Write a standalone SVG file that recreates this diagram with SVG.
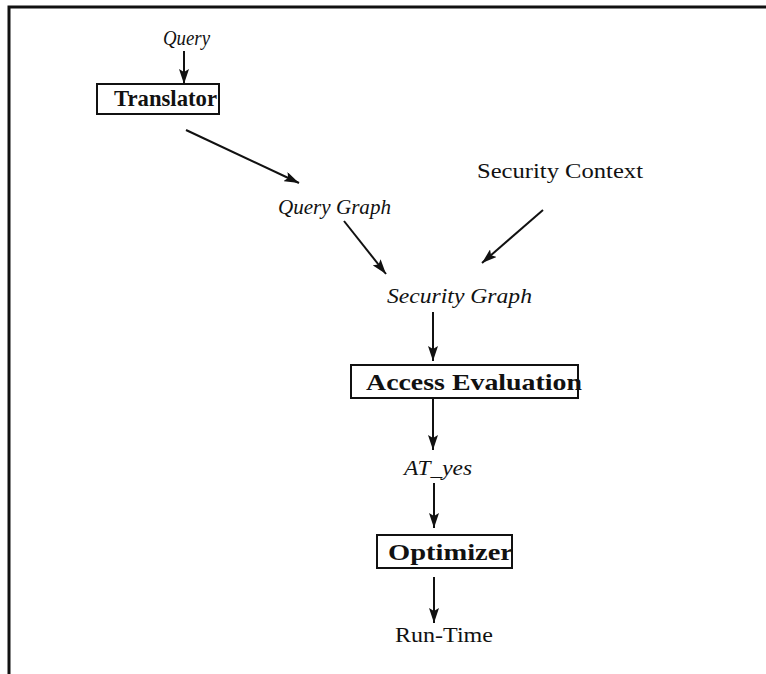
<svg xmlns="http://www.w3.org/2000/svg" width="766" height="674" viewBox="0 0 766 674">
<style>
text{font-family:"Liberation Serif","Times New Roman",serif;fill:#111;font-size:22px}
.it{font-style:italic}
.bf{font-weight:bold;font-size:23px}
.box{fill:none;stroke:#111;stroke-width:2}
.edge{stroke:#111;stroke-width:2;fill:none;marker-end:url(#ah)}
.frame{stroke:#111;stroke-width:3;fill:none}
</style>
<defs>
<marker id="ah" markerUnits="userSpaceOnUse" markerWidth="16" markerHeight="10" refX="15" refY="5" orient="auto">
<path d="M0,0 L15,5 L0,10 L3,5 Z" fill="#111"/>
</marker>
</defs>
<rect width="766" height="674" fill="#fff"/>
<path class="frame" d="M9,674 L9,7 L766,7"/>
<g id="query"><text class="it" x="163" y="45" textLength="47" lengthAdjust="spacingAndGlyphs">Query</text></g>
<g id="translator"><rect class="box" x="97" y="84" width="122" height="30"/><text class="bf" x="114" y="106" textLength="103" lengthAdjust="spacingAndGlyphs">Translator</text></g>
<g id="querygraph"><text class="it" x="278" y="214" textLength="113" lengthAdjust="spacingAndGlyphs">Query Graph</text></g>
<g id="seccontext"><text x="477" y="178" textLength="166" lengthAdjust="spacingAndGlyphs">Security Context</text></g>
<g id="secgraph"><text class="it" x="387" y="303" textLength="145" lengthAdjust="spacingAndGlyphs">Security Graph</text></g>
<g id="access"><rect class="box" x="351" y="365" width="227" height="33"/><text class="bf" x="366" y="390" textLength="216" lengthAdjust="spacingAndGlyphs">Access Evaluation</text></g>
<g id="atyes"><text class="it" x="404" y="475" textLength="68" lengthAdjust="spacingAndGlyphs">AT_yes</text></g>
<g id="optimizer"><rect class="box" x="377" y="535" width="135" height="33"/><text class="bf" x="388" y="560" textLength="125" lengthAdjust="spacingAndGlyphs">Optimizer</text></g>
<g id="runtime"><text x="395" y="642" textLength="98" lengthAdjust="spacingAndGlyphs">Run-Time</text></g>
<g id="connectors">
<line class="edge" x1="184" y1="51" x2="184" y2="84"/>
<line class="edge" x1="186" y1="130" x2="299" y2="183"/>
<line class="edge" x1="344" y1="221" x2="386" y2="274"/>
<line class="edge" x1="543" y1="210" x2="482" y2="263"/>
<line class="edge" x1="433" y1="312" x2="433" y2="361"/>
<line class="edge" x1="433" y1="399" x2="433" y2="450"/>
<line class="edge" x1="434" y1="483" x2="434" y2="528"/>
<line class="edge" x1="434" y1="577" x2="434" y2="623"/>
</g>
</svg>
